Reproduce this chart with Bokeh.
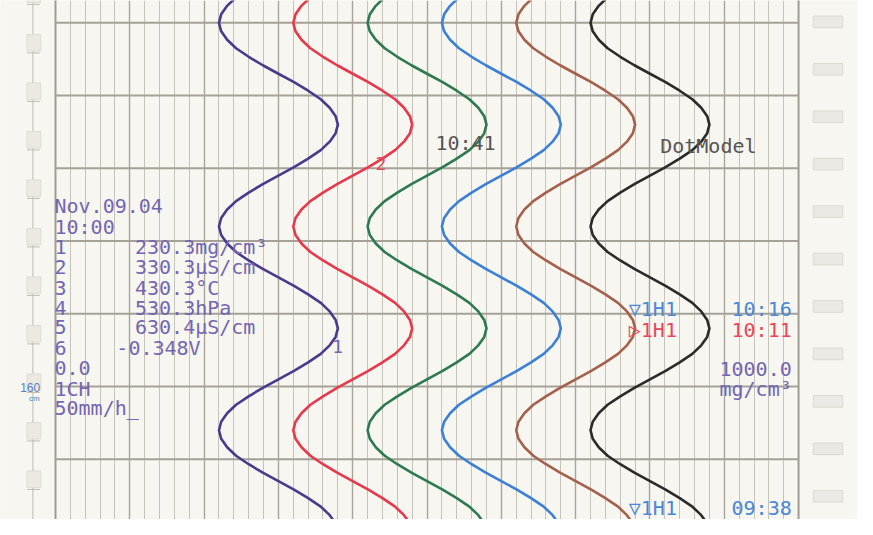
from bokeh.plotting import figure
from bokeh.models import Range1d, FixedTicker
from bokeh.core.properties import value
from bokeh.embed import file_html
from bokeh.resources import INLINE

# ---------------- data ----------------
# position along the paper (30 units = one horizontal division, up = later)
chart_pos = [220.5, 217.0, 213.5, 210.0, 206.5, 203.0, 199.5, 196.0, 192.5, 189.0, 185.5, 182.0,
             178.5, 175.0, 171.5, 168.0, 164.5, 161.0, 157.5, 154.0, 150.5, 147.0, 143.5, 140.0,
             136.5, 133.0, 129.5, 126.0, 122.5, 119.0, 115.5, 112.0, 108.5, 105.0, 101.5, 98.0,
             94.5, 91.0, 87.5, 84.0, 80.5, 77.0, 73.5, 70.0, 66.5, 63.0, 59.5, 56.0,
             52.5, 49.0, 45.5, 42.0, 38.5, 35.0, 31.5, 28.0, 24.5, 21.0, 17.5, 14.0,
             10.5, 7.0, 3.5, 0.0]

# pen positions in % of scale for channels 1..6
ch1 = [24.3, 23.1, 22.3, 22.0, 22.3, 23.1, 24.3, 26.0, 27.9, 30.0, 32.1, 34.0,
       35.7, 36.9, 37.7, 38.0, 37.7, 36.9, 35.7, 34.0, 32.1, 30.0, 27.9, 26.0,
       24.3, 23.1, 22.3, 22.0, 22.3, 23.1, 24.3, 26.0, 27.9, 30.0, 32.1, 34.0,
       35.7, 36.9, 37.7, 38.0, 37.7, 36.9, 35.7, 34.0, 32.1, 30.0, 27.9, 26.0,
       24.3, 23.1, 22.3, 22.0, 22.3, 23.1, 24.3, 26.0, 27.9, 30.0, 32.1, 34.0,
       35.7, 36.9, 37.7, 38.0]
ch2 = [34.3, 33.1, 32.3, 32.0, 32.3, 33.1, 34.3, 36.0, 37.9, 40.0, 42.1, 44.0,
       45.7, 46.9, 47.7, 48.0, 47.7, 46.9, 45.7, 44.0, 42.1, 40.0, 37.9, 36.0,
       34.3, 33.1, 32.3, 32.0, 32.3, 33.1, 34.3, 36.0, 37.9, 40.0, 42.1, 44.0,
       45.7, 46.9, 47.7, 48.0, 47.7, 46.9, 45.7, 44.0, 42.1, 40.0, 37.9, 36.0,
       34.3, 33.1, 32.3, 32.0, 32.3, 33.1, 34.3, 36.0, 37.9, 40.0, 42.1, 44.0,
       45.7, 46.9, 47.7, 48.0]
ch3 = [44.3, 43.1, 42.3, 42.0, 42.3, 43.1, 44.3, 46.0, 47.9, 50.0, 52.1, 54.0,
       55.7, 56.9, 57.7, 58.0, 57.7, 56.9, 55.7, 54.0, 52.1, 50.0, 47.9, 46.0,
       44.3, 43.1, 42.3, 42.0, 42.3, 43.1, 44.3, 46.0, 47.9, 50.0, 52.1, 54.0,
       55.7, 56.9, 57.7, 58.0, 57.7, 56.9, 55.7, 54.0, 52.1, 50.0, 47.9, 46.0,
       44.3, 43.1, 42.3, 42.0, 42.3, 43.1, 44.3, 46.0, 47.9, 50.0, 52.1, 54.0,
       55.7, 56.9, 57.7, 58.0]
ch4 = [54.3, 53.1, 52.3, 52.0, 52.3, 53.1, 54.3, 56.0, 57.9, 60.0, 62.1, 64.0,
       65.7, 66.9, 67.7, 68.0, 67.7, 66.9, 65.7, 64.0, 62.1, 60.0, 57.9, 56.0,
       54.3, 53.1, 52.3, 52.0, 52.3, 53.1, 54.3, 56.0, 57.9, 60.0, 62.1, 64.0,
       65.7, 66.9, 67.7, 68.0, 67.7, 66.9, 65.7, 64.0, 62.1, 60.0, 57.9, 56.0,
       54.3, 53.1, 52.3, 52.0, 52.3, 53.1, 54.3, 56.0, 57.9, 60.0, 62.1, 64.0,
       65.7, 66.9, 67.7, 68.0]
ch5 = [64.3, 63.1, 62.3, 62.0, 62.3, 63.1, 64.3, 66.0, 67.9, 70.0, 72.1, 74.0,
       75.7, 76.9, 77.7, 78.0, 77.7, 76.9, 75.7, 74.0, 72.1, 70.0, 67.9, 66.0,
       64.3, 63.1, 62.3, 62.0, 62.3, 63.1, 64.3, 66.0, 67.9, 70.0, 72.1, 74.0,
       75.7, 76.9, 77.7, 78.0, 77.7, 76.9, 75.7, 74.0, 72.1, 70.0, 67.9, 66.0,
       64.3, 63.1, 62.3, 62.0, 62.3, 63.1, 64.3, 66.0, 67.9, 70.0, 72.1, 74.0,
       75.7, 76.9, 77.7, 78.0]
ch6 = [74.3, 73.1, 72.3, 72.0, 72.3, 73.1, 74.3, 76.0, 77.9, 80.0, 82.1, 84.0,
       85.7, 86.9, 87.7, 88.0, 87.7, 86.9, 85.7, 84.0, 82.1, 80.0, 77.9, 76.0,
       74.3, 73.1, 72.3, 72.0, 72.3, 73.1, 74.3, 76.0, 77.9, 80.0, 82.1, 84.0,
       85.7, 86.9, 87.7, 88.0, 87.7, 86.9, 85.7, 84.0, 82.1, 80.0, 77.9, 76.0,
       74.3, 73.1, 72.3, 72.0, 72.3, 73.1, 74.3, 76.0, 77.9, 80.0, 82.1, 84.0,
       85.7, 86.9, 87.7, 88.0]
channels = [ch1, ch2, ch3, ch4, ch5, ch6]
channel_colors = ["#4a3a8e", "#e8384c", "#2e7a50", "#3b80d6", "#a5604c", "#2b2b2b"]

# printed listing
list_numbers = ["1", "2", "3", "4", "5", "6"]
list_values = ["230.3mg/cm³", "330.3μS/cm", "430.3°C", "530.3hPa", "630.4μS/cm", "-0.348V"]

# ---------------- helpers: reference pixel -> data ----------------
def X(px):
    return (px - 56) / 7.57

def Y(py):
    return (548 - py) * 0.4

PAPER = "#f7f6f0"
MONO = value("DejaVu Sans Mono")
PURPLE_TXT = "#7466b2"
GRAY_TXT = "#555555"
BLUE_TXT = "#4a88d6"
RED_TXT = "#e8485a"

p = figure(width=857, height=519, output_backend="svg", toolbar_location=None,
           x_range=Range1d(X(0), X(873)), y_range=Range1d(Y(535), Y(0)),
           min_border=0, outline_line_color=None,
           background_fill_color=PAPER, border_fill_color=PAPER)
p.xaxis.visible = False
p.yaxis.visible = False

# vertical chart grid (2 % minor, 10 % major)
p.xgrid.ticker = FixedTicker(ticks=list(range(0, 101, 10)),
                             minor_ticks=[v for v in range(0, 101, 2) if v % 10])
p.xgrid.grid_line_color = "#a9a59b"
p.xgrid.grid_line_width = 1.4
p.xgrid.grid_line_alpha = 1.0
p.xgrid.minor_grid_line_color = "#c6c3ba"
p.xgrid.minor_grid_line_width = 1.0
p.ygrid.visible = False

# margins covering the grid outside 0..100 %
p.quad(left=X(-10), right=-0.12, bottom=Y(600), top=Y(-10), fill_color=PAPER, line_color=None)
p.quad(left=100.12, right=X(900), bottom=Y(600), top=Y(-10), fill_color=PAPER, line_color=None)
p.segment(x0=[0, 100], y0=[Y(600)] * 2, x1=[0, 100], y1=[Y(-10)] * 2,
          line_color="#9f9b91", line_width=1.8)

# horizontal division lines
hlines = list(range(0, 211, 30))
p.segment(x0=[0] * len(hlines), y0=hlines, x1=[100] * len(hlines), y1=hlines,
          line_color="#a5a197", line_width=2)

# left perforation strip
p.segment(x0=[X(33)], y0=[Y(600)], x1=[X(33)], y1=[Y(-10)], line_color="#bdbab2", line_width=1)
holes = [-28 + 50 * k for k in range(13)]
p.quad(left=X(27), right=X(41), top=[Y(h + 13) for h in holes], bottom=[Y(h + 30) for h in holes],
       fill_color="#ebe9e2", line_color="#dedbd3", line_width=1)
p.segment(x0=[X(27)] * len(holes), y0=[Y(h + 32) for h in holes],
          x1=[X(40)] * len(holes), y1=[Y(h + 32) for h in holes], line_color="#bdbab2", line_width=1)

# right perforation strip
rh = [22 + 48.9 * k for k in range(11)]
p.quad(left=X(828), right=X(858), top=[Y(h - 6) for h in rh], bottom=[Y(h + 6) for h in rh],
       fill_color="#ebe9e3", line_color="#dcd9d1", line_width=1)

# pen traces
for vals, col in zip(channels, channel_colors):
    p.line(vals, chart_pos, line_color=col, line_width=2.6, line_join="round")

FS = "20px"

def txt(xs, ys, texts, color, align="left", size=FS):
    p.text(x=xs, y=ys, text=texts, text_color=color, text_font=MONO,
           text_font_size=size, text_align=align, text_baseline="middle")

# left printout
txt([X(55)], [Y(212)], ["Nov.09.04"], PURPLE_TXT)
txt([X(55)], [Y(233)], ["10:00"], PURPLE_TXT)
row_y = [254, 275, 296, 317, 337, 358]
txt([X(55)] * 6, [Y(v) for v in row_y], list_numbers, PURPLE_TXT)
txt([X(137)] * 5 + [X(118)], [Y(v) for v in row_y], list_values, PURPLE_TXT)
txt([X(55)], [Y(379)], ["0.0"], PURPLE_TXT)
txt([X(55)], [Y(400)], ["1CH"], PURPLE_TXT)
txt([X(55)], [Y(420)], ["50mm/h_"], PURPLE_TXT)

# pen markers
txt([X(382)], [Y(168)], ["2"], RED_TXT, size="18px")
txt([X(338)], [Y(357)], ["1"], PURPLE_TXT, size="18px")

# messages
txt([X(443)], [Y(147)], ["10:41"], GRAY_TXT)
txt([X(672)], [Y(150)], ["DotModel"], GRAY_TXT)
txt([X(640)], [Y(318)], ["▽1H1"], BLUE_TXT)
txt([X(806)], [Y(318)], ["10:16"], BLUE_TXT, align="right")
txt([X(640)], [Y(340)], ["▷1H1"], RED_TXT)
txt([X(806)], [Y(340)], ["10:11"], RED_TXT, align="right")
txt([X(806)], [Y(380)], ["1000.0"], PURPLE_TXT, align="right")
txt([X(806)], [Y(400)], ["mg/cm³"], PURPLE_TXT, align="right")
txt([X(640)], [Y(523)], ["▽1H1"], BLUE_TXT)
txt([X(806)], [Y(523)], ["09:38"], BLUE_TXT, align="right")

# paper scale print
p.text(x=[X(20)], y=[Y(399)], text=["160"], text_color="#5b7fc0", text_font=value("Liberation Sans"),
       text_font_size="12px", text_align="left", text_baseline="middle")
p.text(x=[X(29)], y=[Y(410)], text=["cm"], text_color="#5b7fc0", text_font=value("Liberation Sans"),
       text_font_size="8px", text_align="left", text_baseline="middle")

open("out.html", "w").write(file_html(p, INLINE))
